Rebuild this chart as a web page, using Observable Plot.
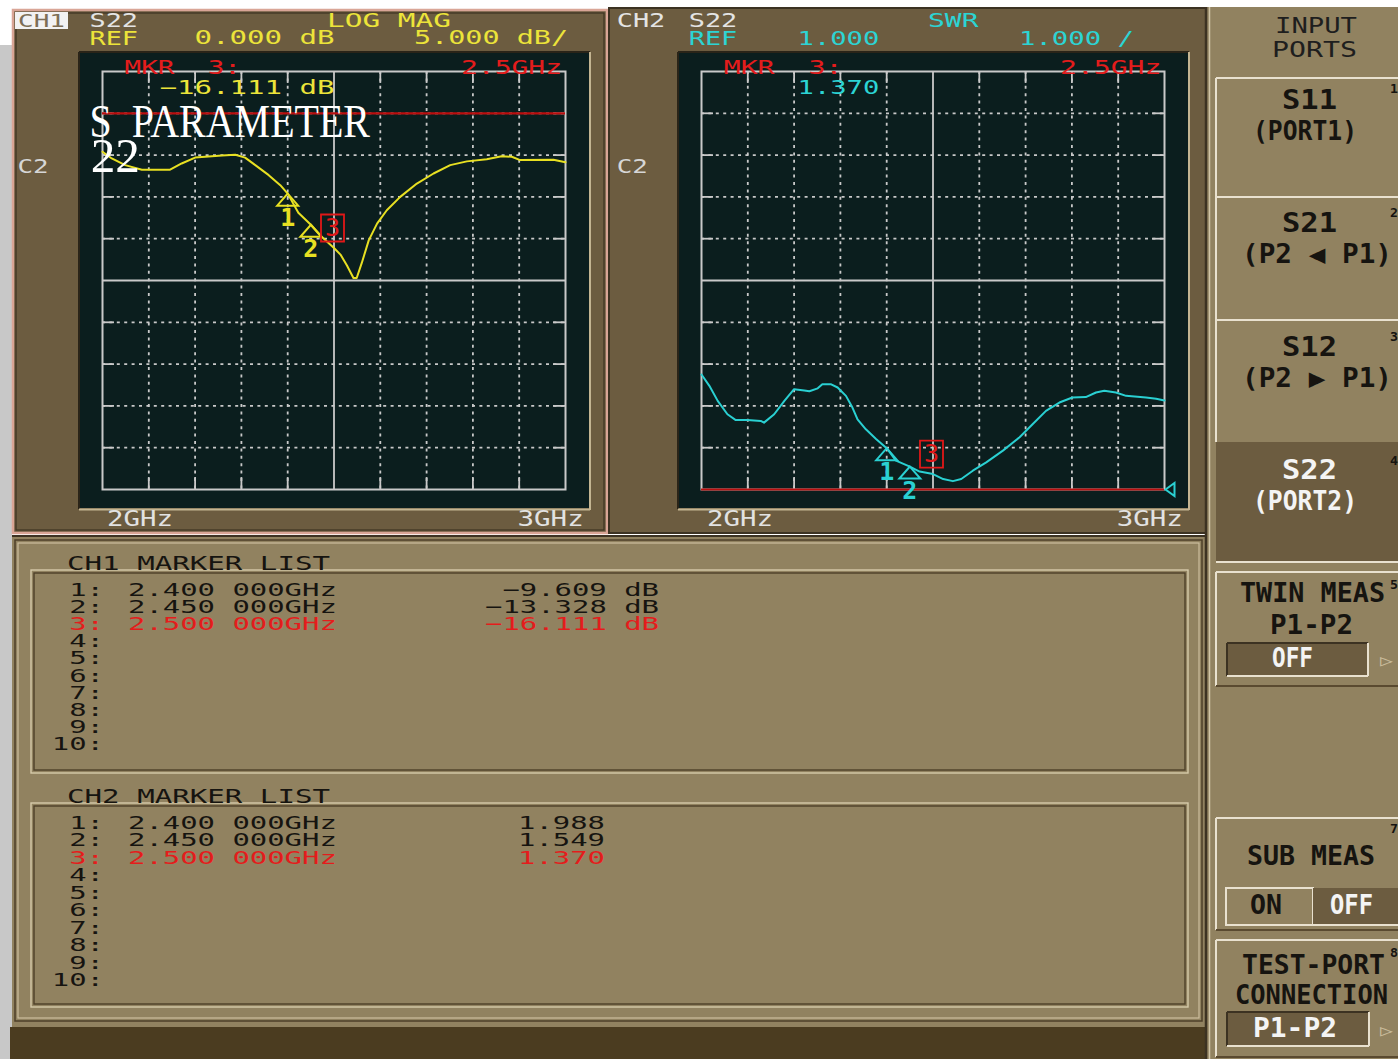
<!DOCTYPE html>
<html><head><meta charset="utf-8">
<script src="https://cdn.jsdelivr.net/npm/d3@7"></script>
<script src="https://cdn.jsdelivr.net/npm/@observablehq/plot@0.6"></script>
<style>
html,body{margin:0;padding:0;background:#fff;overflow:hidden}
#root{position:relative;width:1398px;height:1059px;overflow:hidden;background:#fff}
svg text{white-space:pre}
</style></head><body><div id="root"></div>
<script>
// ---------------- DATA ----------------
const freqTicks = [2.0, 2.1, 2.2, 2.3, 2.4, 2.5, 2.6, 2.7, 2.8, 2.9, 3.0];
const freqLabels = ["2GHz", "3GHz"];
const ch1Ticks = [5, 0, -5, -10, -15, -20, -25, -30, -35, -40, -45];
const ch2Ticks = [11, 10, 9, 8, 7, 6, 5, 4, 3, 2, 1];

// CH1: S22 LOG MAG (dB)
const ch1Freq = [2.000,2.020,2.049,2.085,2.146,2.171,2.200,2.258,2.287,2.308,2.330,2.359,2.384,2.400,2.423,2.450,2.474,2.500,2.514,2.528,2.542,2.549,2.560,2.575,2.593,2.614,2.643,2.679,2.715,2.751,2.787,2.830,2.862,2.884,2.902,2.974,3.000];
const ch1LogMag = [-4.6,-5.4,-6.2,-6.75,-6.75,-6.0,-5.3,-5.05,-4.95,-5.3,-6.2,-7.4,-8.6,-9.609,-11.9,-13.328,-14.8,-16.111,-16.9,-18.2,-19.7,-19.7,-17.9,-15.2,-13.2,-11.6,-10.0,-8.4,-7.2,-6.2,-5.75,-5.5,-5.15,-5.2,-5.6,-5.55,-5.85];

// CH2: S22 SWR
const ch2Freq = [2.000,2.017,2.035,2.056,2.074,2.099,2.128,2.135,2.157,2.179,2.200,2.222,2.233,2.251,2.261,2.279,2.294,2.312,2.326,2.337,2.355,2.377,2.400,2.420,2.450,2.471,2.500,2.522,2.543,2.561,2.586,2.615,2.651,2.687,2.715,2.744,2.773,2.801,2.830,2.852,2.870,2.895,2.917,2.960,2.982,3.000];
const ch2Swr = [3.75,3.48,3.12,2.80,2.66,2.66,2.64,2.60,2.80,3.12,3.40,3.37,3.35,3.42,3.52,3.52,3.44,3.24,2.96,2.68,2.44,2.21,1.988,1.69,1.549,1.43,1.370,1.25,1.20,1.25,1.45,1.65,1.93,2.25,2.56,2.88,3.08,3.20,3.21,3.32,3.36,3.32,3.24,3.20,3.17,3.13];

const markerIds = [1, 2, 3];
const markerFreq = [2.400, 2.450, 2.500];
const ch1MarkerVal = [-9.609, -13.328, -16.111];
const ch2MarkerVal = [1.988, 1.549, 1.370];
const activeMarker = 3;
const ch1Ref = 0;     // REF 0.000 dB
const ch2Ref = 1;     // REF 1.000
const listRows = [1,2,3,4,5,6,7,8,9,10];

// ---------------- HELPERS ----------------
const NS = "http://www.w3.org/2000/svg";
const root = document.getElementById("root");
function el(tag, attrs, parent) {
  const e = document.createElementNS(NS, tag);
  for (const k in attrs) e.setAttribute(k, attrs[k]);
  if (parent) parent.appendChild(e);
  return e;
}
const bg = el("svg", {width:1398, height:1059, style:"position:absolute;left:0;top:0"}, root);
function R(x,y,w,h,a){ return el("rect", Object.assign({x,y,width:w,height:h}, a), bg); }
function L(x1,y1,x2,y2,stroke,w){ return el("line", {x1,y1,x2,y2,stroke,"stroke-width":w||1.5}, bg); }

const MONO = "'DejaVu Sans Mono', 'Liberation Mono', monospace";
const SERIF = "'Liberation Serif', 'DejaVu Serif', serif";
const PANEL = "#6c5c40", TAN = "#918260", DARK = "#3c3222", LIGHT = "#e9e1cf";
const YEL = "#ece43a", CYAN = "#2cd4d4", RED = "#e41c1c", WH = "#e4e4e4", INK = "#161410";

// ---------------- BACKGROUND ----------------
R(0,45,12,1014,{fill:"#c8c8c8"});
// CH1 panel
R(13,10,594,523,{fill:PANEL, stroke:"#d9a596", "stroke-width":2.5});
R(16,13,588,517,{fill:"none", stroke:DARK, "stroke-width":1.2});
// CH2 panel
R(609,8,597,525,{fill:PANEL, stroke:DARK, "stroke-width":2});
// bevel around black screens
for (const x0 of [80, 679]) {
  L(x0-1,52,x0+510,52,"#2a2418",2); L(x0-1,52,x0-1,509,"#2a2418",2);
  L(x0-1,509.5,x0+510,509.5,"#c4b592",2); L(x0+510,52,x0+510,510,"#c4b592",2);
}
// marker list area
R(12,535,1195,492,{fill:TAN});
L(12,536,1207,536,DARK,2);
R(15,540,1187,481,{fill:"none", stroke:"#4d3f28", "stroke-width":1.5});
R(18,543,1181,475,{fill:"none", stroke:"#cdbf9f", "stroke-width":1.2});
for (const [y,h] of [[570,203],[803,204]]) {
  R(31,y,1157,h,{fill:"none", stroke:"#d6caaa", "stroke-width":1.4});
  R(34,y+3,1151,h-6,{fill:"none", stroke:"#4d3f28", "stroke-width":1.4});
}
// bottom strip
R(10,1027,1198,32,{fill:"#4b3c20"});
// right menu
R(1206,7,192,1052,{fill:TAN});
L(1206,7,1206,1059,DARK,2.5);
L(1209.5,7,1209.5,1059,"#d2c6a8",1.5);
// buttons
R(1216,442,182,120,{fill:PANEL});
for (const [t,b] of [[78,197],[197,320],[320,442]]) { L(1216,t,1398,t,LIGHT,2); L(1216,t,1216,b,LIGHT,2); }
L(1216,562,1398,562,LIGHT,2);
for (const [t,b] of [[572,686],[818,930],[940,1057]]) {
  L(1216,t,1398,t,LIGHT,2); L(1216,t,1216,b,LIGHT,2); L(1216,b,1398,b,"#5a4a30",2);
}
// sunken value boxes
function sunken(x,y,w,h,fill){
  R(x,y,w,h,{fill});
  L(x,y,x+w,y,DARK,2); L(x,y,x,y+h,DARK,2);
  L(x,y+h,x+w,y+h,LIGHT,2); L(x+w,y,x+w,y+h,LIGHT,2);
}
sunken(1227,643,141,33,PANEL);
sunken(1227,1012,142,34,PANEL);
R(1226,888,87,37,{fill:TAN, stroke:LIGHT, "stroke-width":2});
R(1313,888,86,37,{fill:PANEL}); L(1313,925,1398,925,LIGHT,2);
// CH1 inverse box
R(15,12,53,17,{fill:"#f2f2f2"});

// ---------------- PLOTS ----------------
const GRID = "#c9c9c9";
const triUp = {draw(ctx){ ctx.moveTo(0,0); ctx.lineTo(10.5,12); ctx.lineTo(-10.5,12); ctx.closePath(); }};
const boxSym = {draw(ctx){ ctx.rect(-11.5,-13.5,23,27); }};
const triLeft = {draw(ctx){ ctx.moveTo(1,0); ctx.lineTo(10,-6.5); ctx.lineTo(10,6.5); ctx.closePath(); }};

function makeChart(o) {
  const [y0, y1] = o.yDomain;
  const innerX = freqTicks.filter(f => f > 2.001 && f < 2.999 && Math.abs(f - 2.5) > 1e-6);
  const innerY = o.yTicks.filter(v => v > y0 && v < y1 && v !== o.yCenter);
  const tx = 12 / 463, ty = 12 / 419 * (y1 - y0);
  const trace = o.freq.map((f, i) => ({f, v: o.vals[i]}));
  const mk = markerIds.map((id, i) => ({id, f: markerFreq[i], v: o.mVals[i]}));
  const passive = mk.filter(d => d.id !== activeMarker);
  const active = mk.filter(d => d.id === activeMarker);
  const gs = {stroke: GRID, strokeWidth: 1.8};
  const marks = [
    Plot.ruleX(innerX, {...gs, strokeDasharray: "3,4.4"}),
    Plot.ruleY(innerY, {...gs, strokeDasharray: "3,4.4"}),
    Plot.ruleX(innerX, {...gs, y1: y0, y2: y0 + ty}),
    Plot.ruleX(innerX, {...gs, y1: y1 - ty, y2: y1}),
    Plot.ruleY(innerY, {...gs, x1: 2, x2: 2 + tx}),
    Plot.ruleY(innerY, {...gs, x1: 3 - tx, x2: 3}),
    Plot.ruleX([2.5], gs),
    Plot.ruleY([o.yCenter], gs),
    Plot.frame({stroke: GRID, strokeWidth: 2}),
    Plot.ruleY([o.ref], {stroke: "#bb0e0e", strokeWidth: 2.2}),
    Plot.line(trace, {x: "f", y: "v", stroke: o.color, strokeWidth: 2}),
    Plot.dot(passive, {x: "f", y: "v", symbol: triUp, r: 6, stroke: o.color, strokeWidth: 2, fill: "none"}),
    Plot.text(passive, {x: "f", y: "v", text: d => String(d.id), dy: 24, fill: o.color, fontSize: 25, fontFamily: MONO, fontWeight: "bold"}),
    Plot.dot(active, {x: "f", y: "v", symbol: boxSym, r: 6, dx: -1.5, dy: -20, stroke: "#e01818", strokeWidth: 1.8, fill: "none"}),
    Plot.text(active, {x: "f", y: "v", text: d => String(d.id), dx: -1.5, dy: -20, fill: "#e01818", fontSize: 25, fontFamily: MONO})
  ];
  if (o.refArrow) marks.push(Plot.dot([{f: 3, v: o.ref}], {x: "f", y: "v", symbol: triLeft, r: 6, stroke: o.color, strokeWidth: 2, fill: "none"}));
  return Plot.plot({
    width: 509, height: 455,
    marginLeft: 22, marginRight: 24, marginTop: 18, marginBottom: 19,
    x: {domain: [2, 3], axis: null},
    y: {domain: o.yDomain, axis: null},
    style: {background: "#0b1e1e", overflow: "visible"},
    marks
  });
}
function place(node, x, y) {
  const d = document.createElement("div");
  d.style.cssText = `position:absolute;left:${x}px;top:${y}px;width:509px;height:455px`;
  d.appendChild(node); root.appendChild(d);
}
place(makeChart({freq: ch1Freq, vals: ch1LogMag, yDomain: [-45, 5], yTicks: ch1Ticks, yCenter: -20, ref: ch1Ref, color: "#e8e022", mVals: ch1MarkerVal}), 80, 53);
place(makeChart({freq: ch2Freq, vals: ch2Swr, yDomain: [1, 11], yTicks: ch2Ticks, yCenter: 6, ref: ch2Ref, color: "#2ad0d2", mVals: ch2MarkerVal, refArrow: true}), 679, 53);

// ---------------- TEXT OVERLAY ----------------
const ov = el("svg", {width:1398, height:1059, style:"position:absolute;left:0;top:0;z-index:5"}, root);
function T(s, x1, x2, cy, fill, size, opt) {
  opt = opt || {};
  const fam = opt.family || MONO;
  const cap = opt.cap || 0.729;
  const t = el("text", {
    x: x1, y: cy + cap * size / 2, fill,
    "font-family": fam, "font-size": size, "font-weight": opt.weight || "normal",
    textLength: x2 - x1, lengthAdjust: "spacingAndGlyphs"
  }, ov);
  t.textContent = s;
  return t;
}
const act = markerIds.indexOf(activeMarker);
const f3 = d3.format(".3f");
// CH1 header
T("CH1", 18, 65, 21, "#7d6e55", 17);
T("S22", 89.5, 138, 20.5, WH, 19);
T("REF", 89.5, 138, 38.5, YEL, 19);
T("LOG MAG", 327, 451, 20.5, YEL, 19);
T(f3(ch1Ref) + " dB", 194.5, 334.6, 37.5, YEL, 19);
T("5.000 dB/", 414, 568, 37.5, YEL, 19);
T("C2", 17.5, 48.6, 166, "#d6d6d6", 20);
T(freqLabels[0], 107, 173, 518, "#e2e2e2", 21);
T(freqLabels[1], 517.5, 583.7, 518, "#e2e2e2", 21);
T("MKR  " + activeMarker + ":", 124.5, 241, 67.5, RED, 19);
T(markerFreq[act] + "GHz", 461, 562, 67.5, RED, 19);
T(f3(ch1MarkerVal[act]) + " dB", 159.5, 334.6, 87, YEL, 19);
T("S  PARAMETER", 89.5, 370, 122, "#ffffff", 46, {family: SERIF, cap: 0.662});
T("22", 90.7, 140, 156, "#ffffff", 48, {family: SERIF, cap: 0.676});
// CH2 header
T("CH2", 616.7, 665.3, 20.5, WH, 19);
T("S22", 688.7, 737.3, 20.5, WH, 19);
T("REF", 688.7, 737.3, 38.5, CYAN, 19);
T("SWR", 928, 978.5, 20.5, CYAN, 19);
T(f3(ch2Ref), 797.6, 879.3, 38, CYAN, 19);
T("1.000 /", 1019, 1134, 38, CYAN, 19);
T("MKR  " + activeMarker + ":", 723.7, 842.4, 67.5, RED, 19);
T(markerFreq[act] + "GHz", 1060, 1161.4, 67.5, RED, 19);
T(f3(ch2MarkerVal[act]), 797.6, 879.3, 87, CYAN, 19);
T("C2", 616.7, 647.8, 166, "#d6d6d6", 20);
T(freqLabels[0], 707, 773, 518, "#e2e2e2", 21);
T(freqLabels[1], 1116.7, 1182.8, 518, "#e2e2e2", 21);

// Marker lists
const P = 17.4;
function list(title, titleY, firstY, pitch, vals, fmt, valEnd) {
  T(title, 67, 330, titleY, INK, 19);
  listRows.forEach((n, i) => {
    const cy = firstY + i * pitch;
    const idx = markerIds.indexOf(n);
    const col = n === activeMarker ? RED : INK;
    const lab = n + ":";
    T(lab, 104 - lab.length * P, 104, cy, col, 18);
    if (idx >= 0) {
      T(f3(markerFreq[idx]) + " 000GHz", 128, 128 + 12 * P, cy, col, 18);
      const v = fmt(vals[idx]);
      T(v, valEnd - v.length * P, valEnd, cy, col, 18);
    }
  });
}
list("CH1 MARKER LIST", 563, 589.5, 17.1, ch1MarkerVal, v => f3(v) + " dB", 659);
list("CH2 MARKER LIST", 796, 822, 17.5, ch2MarkerVal, v => f3(v), 605);

// Menu
T("INPUT", 1275, 1357, 25, "#1e1e1e", 22);
T("PORTS", 1272, 1357, 49, "#1e1e1e", 22);
const B = {weight: "bold"};
T("S11", 1282, 1337, 100, INK, 26, B);
T("(PORT1)", 1253, 1357, 131, INK, 26, B);
T("S21", 1282, 1337, 223, INK, 26, B);
T("(P2 \u25C0 P1)", 1242, 1392, 254, INK, 26, B);
T("S12", 1282, 1337, 347, INK, 26, B);
T("(P2 \u25B6 P1)", 1242, 1392, 378, INK, 26, B);
T("S22", 1282, 1337, 470, "#f4f4f4", 26, B);
T("(PORT2)", 1253, 1357, 501, "#f4f4f4", 26, B);
T("TWIN MEAS", 1240, 1385, 593, INK, 26, B);
T("P1-P2", 1270, 1353, 625, INK, 26, B);
T("OFF", 1272, 1313, 658, "#f4f4f4", 26, B);
T("\u25B7", 1380, 1393, 660, "#c9bc9c", 16);
T("SUB MEAS", 1247, 1375, 856, INK, 26, B);
T("ON", 1250, 1282, 905, INK, 26, B);
T("OFF", 1330, 1373, 905, "#f4f4f4", 26, B);
T("TEST-PORT", 1242, 1385, 965, INK, 26, B);
T("CONNECTION", 1235, 1388, 995, INK, 26, B);
T("P1-P2", 1253, 1337, 1028, "#f4f4f4", 26, B);
T("\u25B7", 1380, 1393, 1030, "#c9bc9c", 16);
for (const [d, y] of [["1",88],["2",212],["3",336],["4",460],["5",584],["7",828],["8",952]]) {
  T(d, 1390, 1398, y, INK, 13, B);
}
</script></body></html>
